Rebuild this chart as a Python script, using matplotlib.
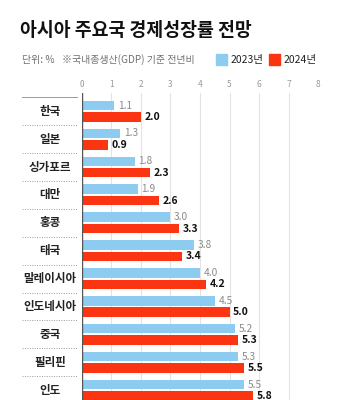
import matplotlib.pyplot as plt
import matplotlib.transforms as mtransforms
import numpy as np

plt.rcParams['font.family'] = ['Noto Sans CJK KR', 'DejaVu Sans']

countries = ["한국", "일본", "싱가포르", "대만", "홍콩", "태국",
             "말레이시아", "인도네시아", "중국", "필리핀", "인도"]
growth_2023 = [1.1, 1.3, 1.8, 1.9, 3.0, 3.8, 4.0, 4.5, 5.2, 5.3, 5.5]
growth_2024 = [2.0, 0.9, 2.3, 2.6, 3.3, 3.4, 4.2, 5.0, 5.3, 5.5, 5.8]
ticks = [0, 1, 2, 3, 4, 5, 6, 7, 8]

blue = '#8dcbf1'
red = '#fb3412'

W, H = 341, 400
fig = plt.figure(figsize=(W / 100, H / 100), dpi=100)

def fx(x):
    return x / W

def fy(y):
    return 1 - y / H

# pixel layout of the plot area
x0, x8 = 81.7, 318.3
top = 93
first_c, pitch = 111.2, 27.9

ax = fig.add_axes([fx(x0), 0, fx(x8 - x0), (H - top) / H])
y = np.arange(len(countries))
off = 5.7 / pitch
h = 9.5 / pitch

ax.barh(y - off, growth_2023, height=h, color=blue, zorder=3)
ax.barh(y + off, growth_2024, height=h, color=red, zorder=3)

for i in range(len(countries)):
    ax.text(growth_2023[i] + 0.12, y[i] - off, f"{growth_2023[i]:.1f}",
            va='center', ha='left', fontsize=7.3, color='#8a8a8a')
    ax.text(growth_2024[i] + 0.12, y[i] + off, f"{growth_2024[i]:.1f}",
            va='center', ha='left', fontsize=7.5, color='#111111',
            fontweight='bold')

ax.set_xlim(0, 8)
ax.set_ylim((H - first_c) / pitch, (top - first_c) / pitch)
ax.set_xticks(ticks)
ax.set_xticklabels([str(t) for t in ticks])
ax.xaxis.tick_top()
ax.tick_params(axis='x', length=0, labelsize=6, labelcolor='#999999', pad=3)
ax.set_yticks([])
for s in ax.spines.values():
    s.set_visible(False)
ax.grid(axis='x', color='#e3e3e3', linewidth=0.8, zorder=0)
ax.axvline(0, color='#555555', linewidth=1.0, zorder=4)

# row labels and dotted separators to the left of the axis
trans = mtransforms.blended_transform_factory(fig.transFigure, ax.transData)
for i, name in enumerate(countries):
    ax.text(fx(50), y[i], name, transform=trans, ha='center', va='center',
            fontsize=8.3, fontweight='bold', color='#222222', clip_on=False)
    sep = y[i] - 0.5
    ax.plot([fx(22), fx(77)], [sep, sep], transform=trans, clip_on=False,
            color='#999999', linewidth=0.7,
            linestyle='-' if i == 0 else (0, (1, 1.5)))

# title, subtitle, legend
fig.text(fx(20), fy(31), "아시아 주요국 경제성장률 전망", fontsize=13.2,
         fontweight='black', color='#111111', va='center', ha='left')
fig.text(fx(22), fy(60), "단위: %", fontsize=7.2, color='#707070',
         va='center', ha='left')
fig.text(fx(62), fy(60), "※국내총생산(GDP) 기준 전년비", fontsize=7.2,
         color='#707070', va='center', ha='left')

fig.patches.append(plt.Rectangle((fx(216), fy(65)), fx(11), 11 / H,
                                 transform=fig.transFigure, color=blue,
                                 figure=fig))
fig.text(fx(231), fy(60), "2023년", fontsize=7.5, color='#222222',
         va='center', ha='left')
fig.patches.append(plt.Rectangle((fx(269), fy(65)), fx(11), 11 / H,
                                 transform=fig.transFigure, color=red,
                                 figure=fig))
fig.text(fx(284), fy(60), "2024년", fontsize=7.5, color='#222222',
         va='center', ha='left')

fig.savefig("out.png", dpi=100, facecolor='white')
